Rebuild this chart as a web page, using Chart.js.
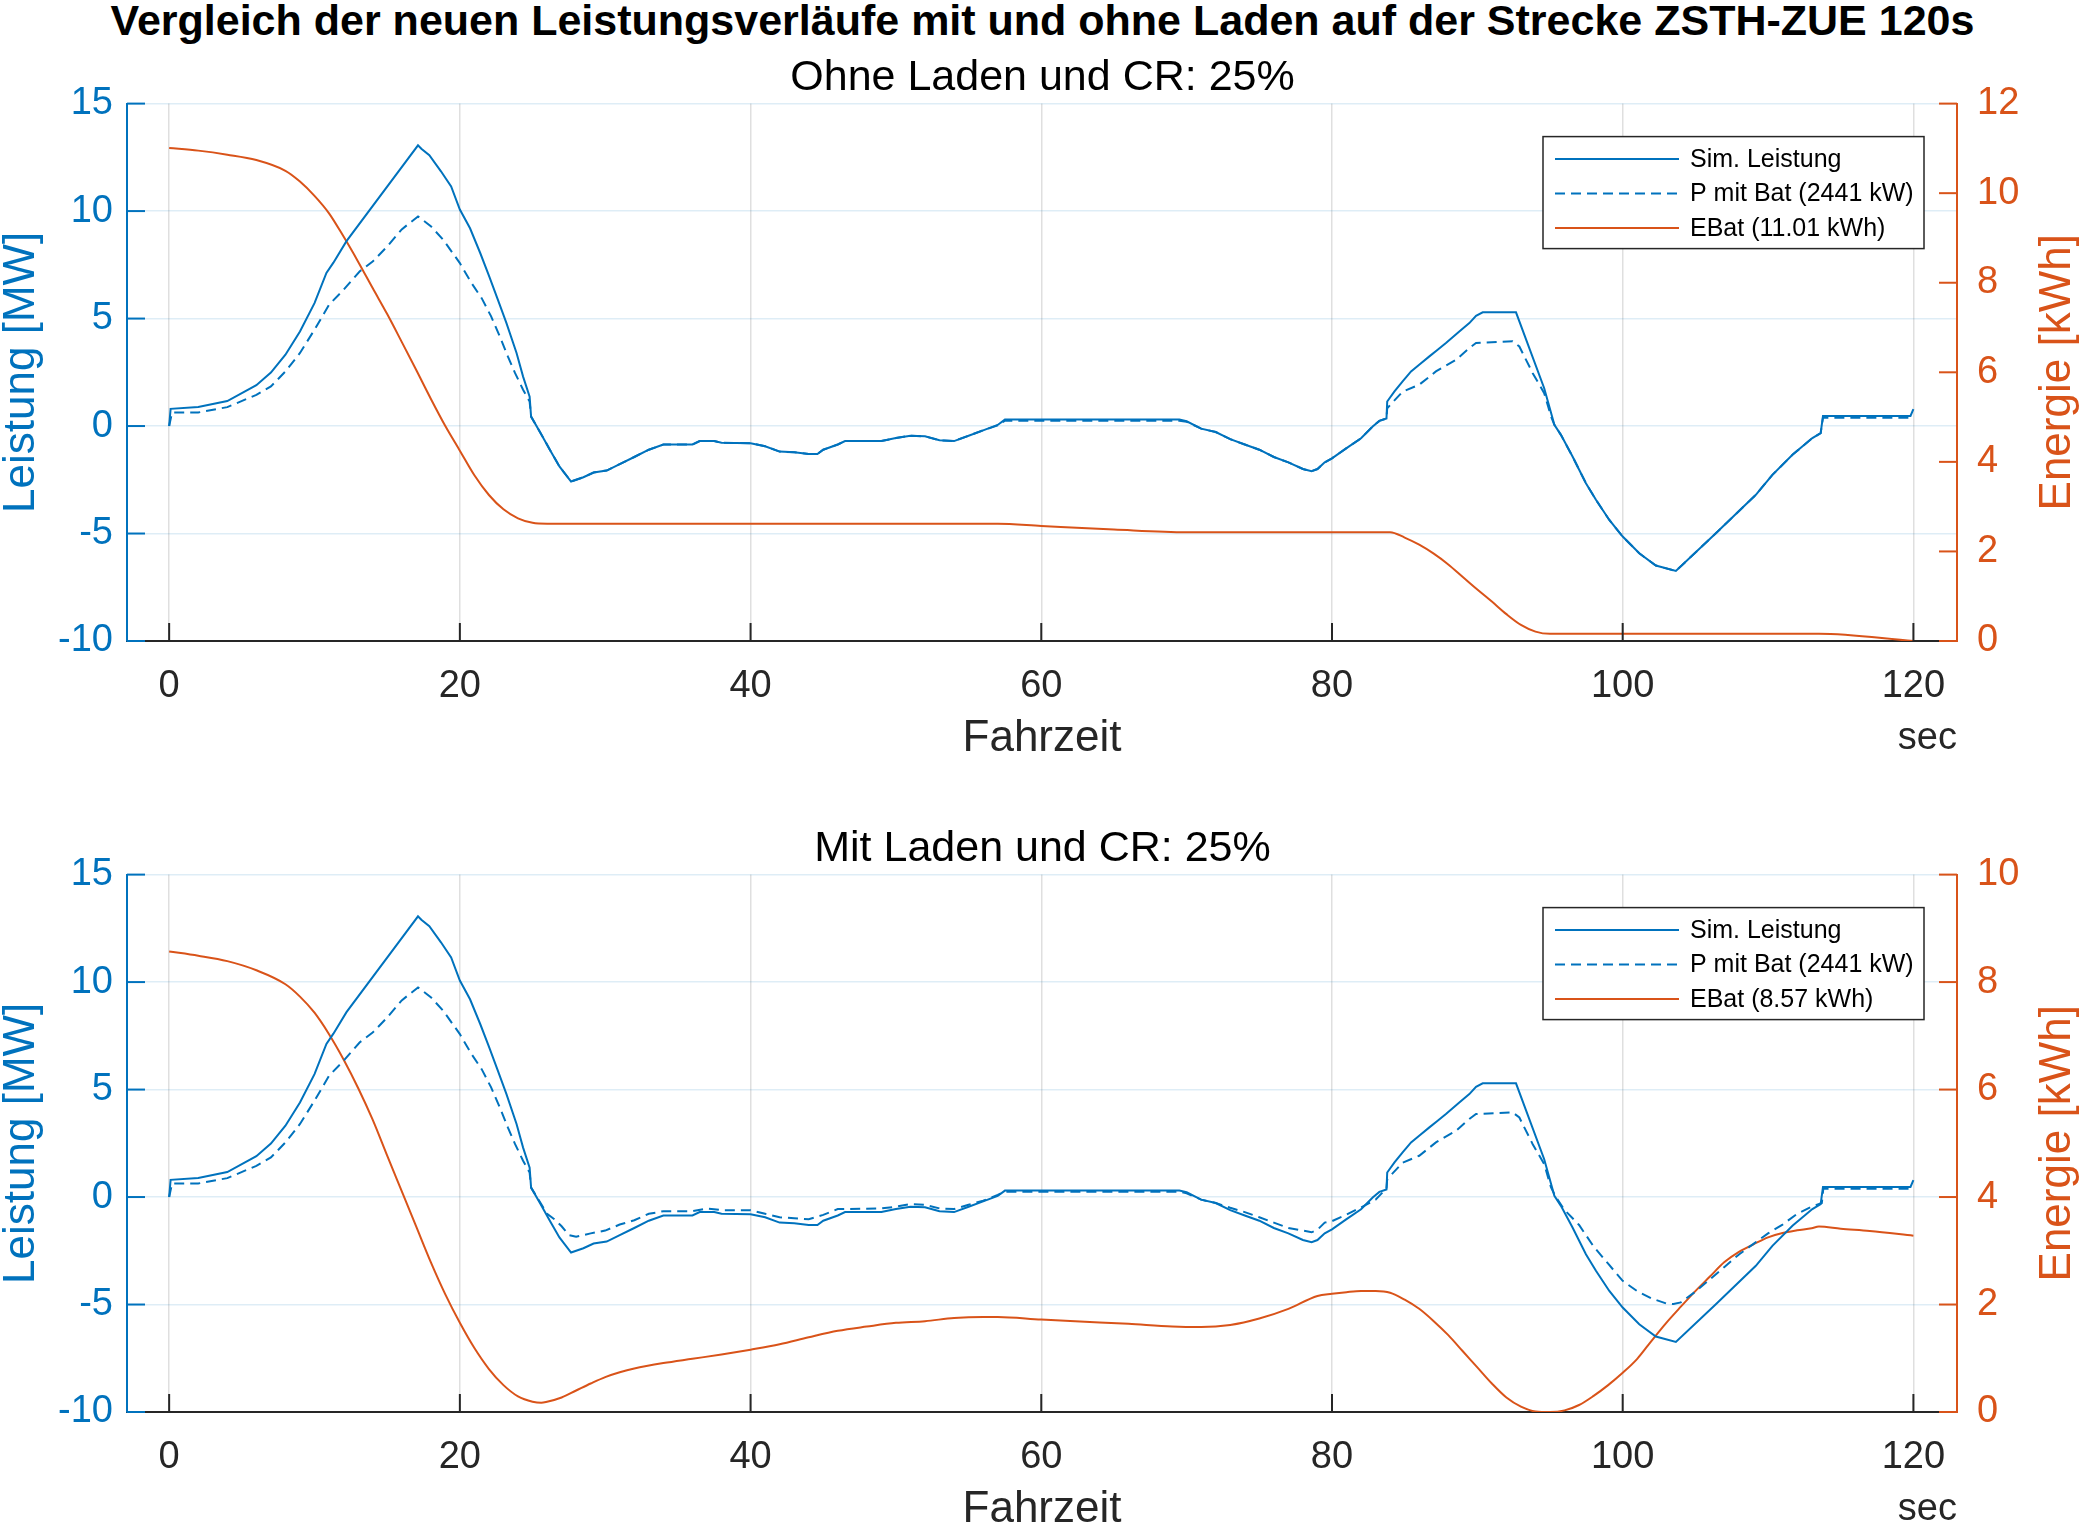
<!DOCTYPE html>
<html>
<head>
<meta charset="utf-8">
<script src="https://cdn.jsdelivr.net/npm/chart.js@4.4.1/dist/chart.umd.min.js"></script>
<style>
html,body{margin:0;padding:0;background:#fff;overflow:hidden;width:2085px;height:1525px;}
#title{position:absolute;left:0;top:-4px;width:2085px;height:40px;line-height:40px;text-align:center;
  font:bold 43px "Liberation Sans",Arial,sans-serif;color:#000;white-space:nowrap;}
canvas{position:absolute;left:0;}
#c1{top:40px;}
#c2{top:811px;}
</style>
</head>
<body>
<div id="title">Vergleich der neuen Leistungsverläufe mit und ohne Laden auf der Strecke ZSTH-ZUE 120s</div>
<canvas id="c1" width="2085" height="740"></canvas>
<canvas id="c2" width="2085" height="740"></canvas>
<script>
const FONT = '"Liberation Sans", Arial, sans-serif';
const BLUE = '#0072BD', ORANGE = '#D95319', AXIS = '#262626';

/* tick labels */
const xTicks = [0, 20, 40, 60, 80, 100, 120];
const powerTicks = [-10, -5, 0, 5, 10, 15];
const energyTicksOhne = [0, 2, 4, 6, 8, 10, 12];
const energyTicksMit = [0, 2, 4, 6, 8, 10];

/* Sim. Leistung [MW] (same in both plots) */
const tSim = [0, 0.1, 2, 4, 6, 7, 8, 9, 10, 10.82, 11.3, 12.2, 17.12, 17.35, 17.9, 18.7, 19.4, 20, 20.7, 21.4, 22, 22.6, 23.2, 23.9, 24.35, 24.8, 24.9, 25.5, 26.2, 26.85, 27.65, 28.5, 29.2, 30.1, 31, 32, 33, 34, 36, 36.5, 37.5, 38, 40, 41, 42, 43, 44, 44.6, 45, 46, 46.5, 49, 50, 51, 52, 53, 54, 55, 56, 57, 57.5, 69.5, 70, 71, 72, 73, 74, 75, 76, 77, 78, 78.6, 79, 79.5, 80, 81, 82, 82.8, 83.26, 83.75, 83.8, 84.3, 84.86, 85.44, 86, 86.7, 87.27, 87.84, 88.76, 89.45, 89.91, 90.37, 92.66, 94.6, 94.95, 95.3, 95.75, 96.55, 97.47, 98.16, 99.08, 100, 101.14, 102.28, 103.66, 106.41, 109.16, 110.3, 111.68, 113.05, 113.62, 113.78, 119.8, 120];
const pSim = [0, 0.8, 0.89, 1.16, 1.9, 2.49, 3.32, 4.4, 5.72, 7.12, 7.6, 8.6, 13.06, 12.9, 12.6, 11.85, 11.15, 10.07, 9.2, 8.05, 7.0, 5.9, 4.8, 3.4, 2.3, 1.37, 0.44, -0.26, -1.11, -1.88, -2.58, -2.38, -2.16, -2.07, -1.77, -1.44, -1.1, -0.86, -0.86, -0.7, -0.7, -0.78, -0.8, -0.94, -1.19, -1.22, -1.3, -1.3, -1.1, -0.86, -0.7, -0.7, -0.56, -0.45, -0.48, -0.66, -0.7, -0.45, -0.2, 0.05, 0.3, 0.3, 0.22, -0.12, -0.28, -0.61, -0.86, -1.1, -1.44, -1.69, -2.0, -2.1, -2.0, -1.69, -1.5, -1.03, -0.57, -0.02, 0.24, 0.35, 1.14, 1.61, 2.08, 2.54, 2.85, 3.24, 3.55, 3.86, 4.4, 4.79, 5.13, 5.29, 5.29, 1.76, 0.91, 0.06, -0.41, -1.42, -2.66, -3.43, -4.37, -5.14, -5.92, -6.49, -6.74, -4.99, -3.2, -2.27, -1.34, -0.56, -0.33, 0.47, 0.47, 0.79];

/* P mit Bat, ohne Laden */
const tBatOhne = [0, 0.2, 2, 4, 6, 7, 8, 9, 10, 11, 12, 13.1, 14, 15, 16, 17.12, 18, 18.85, 20, 20.8, 21.5, 22.15, 22.75, 23.3, 23.8, 24.35, 24.8, 24.9, 25.5, 26.2, 26.85, 27.65, 28.5, 29.2, 30.1, 31, 32, 33, 34, 36, 36.5, 37.5, 38, 40, 41, 42, 43, 44, 44.6, 45, 46, 46.5, 49, 50, 51, 52, 53, 54, 55, 56, 57, 57.5, 69.5, 70, 71, 72, 73, 74, 75, 76, 77, 78, 78.6, 79, 79.5, 80, 81, 82, 82.8, 83.26, 83.75, 83.8, 84.86, 86, 87.15, 88.53, 89.45, 89.91, 92.43, 92.89, 93.81, 94.6, 95.07, 95.3, 95.75, 96.55, 97.47, 98.16, 99.08, 100, 101.14, 102.28, 103.66, 106.41, 109.16, 110.3, 111.68, 113.05, 113.62, 113.78, 120];
const pBatOhne = [0, 0.63, 0.63, 0.88, 1.45, 1.84, 2.54, 3.4, 4.48, 5.64, 6.34, 7.19, 7.65, 8.35, 9.15, 9.75, 9.3, 8.67, 7.58, 6.65, 5.95, 5.1, 4.17, 3.24, 2.46, 1.69, 1.14, 0.44, -0.26, -1.11, -1.88, -2.58, -2.38, -2.16, -2.07, -1.77, -1.44, -1.1, -0.86, -0.86, -0.7, -0.7, -0.78, -0.8, -0.94, -1.19, -1.22, -1.3, -1.3, -1.1, -0.86, -0.7, -0.7, -0.56, -0.45, -0.48, -0.66, -0.7, -0.45, -0.2, 0.03, 0.25, 0.25, 0.2, -0.12, -0.28, -0.61, -0.86, -1.1, -1.44, -1.69, -2.0, -2.1, -2.0, -1.69, -1.5, -1.03, -0.57, -0.02, 0.24, 0.35, 0.83, 1.6, 1.92, 2.54, 3.08, 3.63, 3.86, 3.94, 3.7, 2.46, 1.53, 0.45, 0.06, -0.41, -1.42, -2.66, -3.43, -4.37, -5.14, -5.92, -6.49, -6.74, -4.99, -3.2, -2.27, -1.34, -0.56, -0.33, 0.38, 0.38];

/* P mit Bat, mit Laden */
const tBatMit = [0, 0.2, 2, 4, 6, 7, 8, 9, 10, 11, 12, 13.1, 14, 15, 16, 17.12, 18, 18.85, 20, 20.8, 21.5, 22.15, 22.75, 23.3, 23.8, 24.35, 24.8, 24.9, 25.5, 26, 26.5, 27, 27.5, 28, 29, 30, 31, 32, 33, 34, 36, 37, 38, 40, 41, 42, 43, 44, 45, 46, 49, 50, 51, 52, 53, 54, 55, 56, 57, 57.5, 69.5, 70, 71, 72, 73, 74, 75, 76, 77, 78, 78.6, 79, 79.5, 80, 81, 82, 83, 83.75, 83.8, 84.86, 86, 87.15, 88.53, 89.45, 89.91, 92.43, 92.89, 93.81, 94.6, 95.07, 95.4, 96, 97, 98, 99, 100, 101, 102, 103, 103.5, 104, 105, 106, 107, 108, 109, 110, 111, 112, 113, 113.7, 113.8, 120];
const pBatMit = [0, 0.63, 0.63, 0.88, 1.45, 1.84, 2.54, 3.4, 4.48, 5.64, 6.34, 7.19, 7.65, 8.35, 9.15, 9.75, 9.3, 8.67, 7.58, 6.65, 5.95, 5.1, 4.17, 3.24, 2.46, 1.69, 1.14, 0.44, -0.22, -0.78, -1.03, -1.36, -1.77, -1.85, -1.69, -1.56, -1.28, -1.08, -0.78, -0.66, -0.66, -0.53, -0.61, -0.61, -0.78, -0.94, -0.99, -1.03, -0.83, -0.56, -0.53, -0.45, -0.33, -0.36, -0.53, -0.56, -0.36, -0.17, 0.1, 0.25, 0.25, 0.17, -0.12, -0.28, -0.5, -0.7, -0.94, -1.19, -1.44, -1.56, -1.64, -1.52, -1.19, -1.12, -0.82, -0.48, -0.12, 0.4, 0.83, 1.6, 1.92, 2.54, 3.08, 3.63, 3.86, 3.94, 3.7, 2.46, 1.53, 0.45, 0.0, -0.6, -1.3, -2.3, -3.1, -3.9, -4.38, -4.72, -4.95, -4.98, -4.9, -4.4, -3.83, -3.25, -2.67, -2.18, -1.69, -1.28, -0.78, -0.45, -0.28, 0.38, 0.38];

/* EBat [kWh] */
const tEOhne = [0, 2, 4, 6, 8, 9, 10, 11, 12, 13, 14, 15, 16, 17, 18, 19, 20, 21, 22, 23, 24, 25, 26, 57, 60, 65, 70, 84, 85, 86, 87, 88, 89, 90, 91, 92, 93, 94, 95, 113.5, 120];
const eOhne = [11.01, 10.95, 10.86, 10.74, 10.5, 10.26, 9.94, 9.55, 9.03, 8.47, 7.88, 7.3, 6.68, 6.05, 5.41, 4.8, 4.25, 3.7, 3.26, 2.94, 2.74, 2.64, 2.62, 2.62, 2.57, 2.49, 2.43, 2.43, 2.31, 2.15, 1.95, 1.71, 1.43, 1.15, 0.88, 0.6, 0.36, 0.21, 0.16, 0.16, 0];

const tEMit = [0, 2, 4, 6, 8, 9, 10, 11, 12, 13, 14, 15, 16, 17, 18, 19, 20, 21, 22, 23, 24, 25, 25.6, 26, 27, 28, 29, 30, 31, 32, 34, 36, 38, 40, 42, 44, 46, 48, 50, 52, 54, 56, 57, 60, 63, 66, 69, 71, 73, 75, 77, 79, 80, 81, 82, 83, 84, 85, 86, 87, 88, 89, 90, 91, 92, 93, 94, 95, 96, 97, 98, 99, 100, 101, 102, 103, 104, 105, 106, 107, 108, 109, 110, 111, 112, 113, 113.5, 115, 117, 120];
const eMit = [8.57, 8.49, 8.39, 8.22, 7.96, 7.73, 7.43, 7.03, 6.56, 6.03, 5.44, 4.77, 4.11, 3.45, 2.79, 2.19, 1.66, 1.19, 0.8, 0.5, 0.29, 0.19, 0.17, 0.19, 0.27, 0.4, 0.53, 0.65, 0.74, 0.81, 0.91, 0.99, 1.07, 1.16, 1.26, 1.39, 1.51, 1.59, 1.66, 1.69, 1.75, 1.77, 1.77, 1.72, 1.68, 1.64, 1.59, 1.58, 1.62, 1.74, 1.92, 2.16, 2.2, 2.23, 2.25, 2.25, 2.22, 2.09, 1.92, 1.69, 1.43, 1.13, 0.83, 0.53, 0.27, 0.1, 0.01, 0, 0.03, 0.13, 0.3, 0.5, 0.73, 0.99, 1.33, 1.66, 1.96, 2.25, 2.52, 2.79, 2.98, 3.12, 3.25, 3.33, 3.38, 3.42, 3.45, 3.41, 3.37, 3.28];

function pts(t, v){
    return t.map((x, i) => ({x: x, y: v[i]}));
}

/* matlab look: inward ticks, right label, "sec", boxed legend */
const matlabAxes = {
    id: 'matlabAxes',
    afterDraw(chart){
        const ctx = chart.ctx, a = chart.chartArea;
        const sx = chart.scales.x, sy = chart.scales.y, sy1 = chart.scales.y1;
        const tick = 18;
        function seg(c, x1, y1, x2, y2){
            ctx.strokeStyle = c;
            ctx.beginPath(); ctx.moveTo(x1, y1); ctx.lineTo(x2, y2); ctx.stroke();
        }
        ctx.save();
        ctx.lineWidth = 2;
        sx.ticks.forEach(t => { const p = sx.getPixelForValue(t.value); seg(AXIS, p, a.bottom, p, a.bottom - tick); });
        sy.ticks.forEach(t => { const p = sy.getPixelForValue(t.value); seg(BLUE, a.left, p, a.left + tick, p); });
        sy1.ticks.forEach(t => { const p = sy1.getPixelForValue(t.value); seg(ORANGE, a.right, p, a.right - tick, p); });

        ctx.save();
        ctx.fillStyle = ORANGE;
        ctx.font = '44px ' + FONT;
        ctx.textAlign = 'center';
        ctx.textBaseline = 'middle';
        ctx.translate(a.right + 101, (a.top + a.bottom) / 2);
        ctx.rotate(-Math.PI / 2);
        ctx.fillText('Energie [kWh]', 0, 0);
        ctx.restore();

        ctx.fillStyle = AXIS;
        ctx.font = '38px ' + FONT;
        ctx.textAlign = 'right';
        ctx.textBaseline = 'middle';
        ctx.fillText('sec', a.right, a.bottom + 98);

        const w = 381, h = 112, bx = a.right - 33 - w, by = a.top + 33;
        ctx.fillStyle = '#fff';
        ctx.fillRect(bx, by, w, h);
        ctx.lineWidth = 1.5;
        ctx.strokeStyle = AXIS;
        ctx.strokeRect(bx, by, w, h);
        ctx.font = '25px ' + FONT;
        ctx.textAlign = 'left';
        chart.data.datasets.forEach((ds, i) => {
            const yy = by + 22.5 + i * 34.5;
            ctx.lineWidth = 2;
            ctx.setLineDash(ds.borderDash || []);
            seg(ds.borderColor, bx + 12, yy, bx + 136, yy);
            ctx.setLineDash([]);
            ctx.fillStyle = '#000';
            ctx.fillText(ds.label, bx + 147, yy + 1);
        });
        ctx.restore();
    }
};

function makeChart(id, subtitle, pBatT, pBatV, eT, eV, eMax, eTicks, eLabel){
    return new Chart(document.getElementById(id), {
        type: 'line',
        data: {
            datasets: [
                { label: 'Sim. Leistung', data: pts(tSim, pSim), yAxisID: 'y',
                  borderColor: BLUE, borderWidth: 2, pointRadius: 0, tension: 0 },
                { label: 'P mit Bat (2441 kW)', data: pts(pBatT, pBatV), yAxisID: 'y',
                  borderColor: BLUE, borderWidth: 2, borderDash: [10, 6], pointRadius: 0, tension: 0 },
                { label: eLabel, data: pts(eT, eV), yAxisID: 'y1',
                  borderColor: ORANGE, borderWidth: 2, pointRadius: 0, cubicInterpolationMode: 'monotone' }
            ]
        },
        options: {
            responsive: false,
            animation: false,
            devicePixelRatio: 1,
            layout: { padding: 0 },
            plugins: {
                legend: { display: false },
                tooltip: { enabled: false },
                title: { display: true, text: subtitle, color: '#000',
                         font: { family: FONT, size: 43, weight: 'normal', lineHeight: 1.2 },
                         padding: { top: 12, bottom: 0 } }
            },
            scales: {
                x: {
                    type: 'linear', min: -2.9, max: 123,
                    afterBuildTicks: s => { s.ticks = xTicks.map(v => ({value: v})); },
                    afterFit: s => { s.height = 139; },
                    grid: { color: 'rgba(38,38,38,0.15)', lineWidth: 1.5, drawTicks: false },
                    border: { color: AXIS, width: 2 },
                    ticks: { color: AXIS, font: { family: FONT, size: 38 }, padding: 23, maxRotation: 0, autoSkip: false },
                    title: { display: true, text: 'Fahrzeit', color: AXIS,
                             font: { family: FONT, size: 44, lineHeight: 1.2 }, padding: { top: 0, bottom: 14.6 } }
                },
                y: {
                    position: 'left', min: -10, max: 15,
                    afterBuildTicks: s => { s.ticks = powerTicks.map(v => ({value: v})); },
                    afterFit: s => { s.width = 127; },
                    grid: { color: 'rgba(0,114,189,0.13)', lineWidth: 1.5, drawTicks: false },
                    border: { color: BLUE, width: 2 },
                    ticks: { color: BLUE, font: { family: FONT, size: 38 }, padding: 14 },
                    title: { display: true, text: 'Leistung [MW]', color: BLUE,
                             font: { family: FONT, size: 44, lineHeight: 1 }, padding: 0 }
                },
                y1: {
                    position: 'right', min: 0, max: eMax,
                    afterBuildTicks: s => { s.ticks = eTicks.map(v => ({value: v})); },
                    afterFit: s => { s.width = 128; },
                    grid: { display: false, drawTicks: false },
                    border: { color: ORANGE, width: 2 },
                    ticks: { color: ORANGE, font: { family: FONT, size: 38 }, padding: 20 }
                }
            }
        },
        plugins: [matlabAxes]
    });
}

makeChart('c1', 'Ohne Laden und CR: 25%', tBatOhne, pBatOhne, tEOhne, eOhne, 12, energyTicksOhne, 'EBat (11.01 kWh)');
makeChart('c2', 'Mit Laden und CR: 25%', tBatMit, pBatMit, tEMit, eMit, 10, energyTicksMit, 'EBat (8.57 kWh)');
</script>
</body>
</html>
